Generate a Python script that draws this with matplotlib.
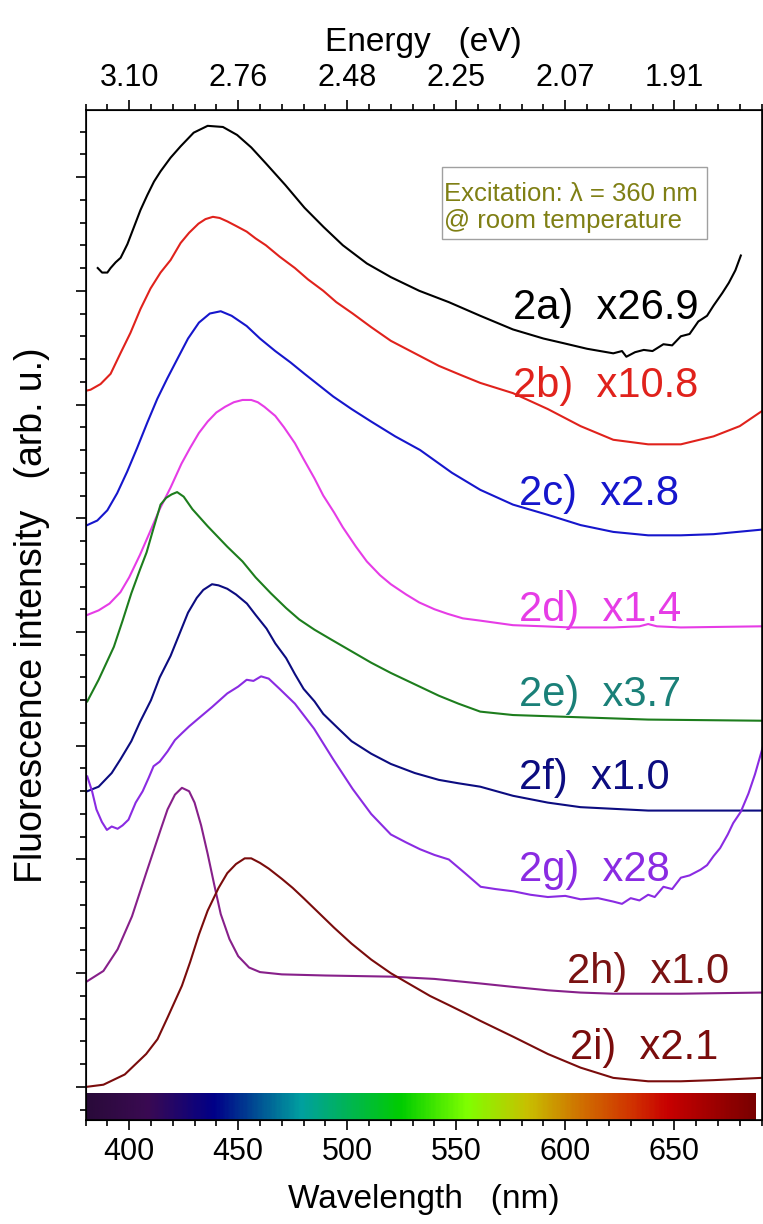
import numpy as np
import matplotlib
matplotlib.use("Agg")
import matplotlib.pyplot as plt
from matplotlib.colors import LinearSegmentedColormap
from matplotlib.patches import Rectangle
from matplotlib.ticker import MultipleLocator

plt.rcParams['font.family'] = ['Liberation Sans', 'DejaVu Sans']

# spectra (wavelength nm, offset intensity)
wl_2a = [385.6, 387.6, 390, 391.5, 393.8, 396.1, 399.2, 402.2, 405.2, 408.3, 411.4, 414.4, 419, 423.6,
         429.6, 436, 443, 449.5, 456, 462.7, 471.6, 480.4, 489.2, 498, 509, 520, 533, 546.6, 561, 576,
         590, 599, 610, 622, 626, 628, 632, 636, 640, 645, 649, 653, 657, 661, 665, 668, 672, 675, 678, 680.5]
int_2a = [7.20, 7.16, 7.16, 7.20, 7.25, 7.29, 7.41, 7.56, 7.71, 7.84, 7.96, 8.05, 8.17, 8.27,
          8.39, 8.45, 8.44, 8.37, 8.26, 8.12, 7.93, 7.73, 7.56, 7.40, 7.24, 7.12, 7.00, 6.90, 6.78, 6.66,
          6.58, 6.54, 6.49, 6.45, 6.47, 6.42, 6.46, 6.48, 6.47, 6.53, 6.52, 6.60, 6.62, 6.73, 6.78, 6.87, 6.98, 7.07, 7.18, 7.31]

wl_2b = [380, 382.3, 386.9, 391.5, 396, 400.6, 405.2, 409.8, 414.4, 419, 423.6, 427.5, 431.8, 435, 438.4, 441.5,
         445, 449, 453.9, 458, 462.7, 469, 476, 482, 489, 495, 502.5, 511, 520, 531, 542, 552, 561, 576,
         592, 607, 622, 638, 653, 668, 680, 690]
int_2b = [6.12, 6.13, 6.18, 6.27, 6.45, 6.63, 6.84, 7.02, 7.16, 7.27, 7.42, 7.51, 7.59, 7.63, 7.65, 7.64,
          7.61, 7.57, 7.52, 7.46, 7.40, 7.30, 7.20, 7.10, 7.00, 6.90, 6.80, 6.68, 6.56, 6.45, 6.34, 6.26, 6.19, 6.10,
          5.96, 5.81, 5.69, 5.65, 5.65, 5.72, 5.81, 5.94]

wl_2c = [380.8, 385.4, 390, 394.5, 399.1, 403.7, 408.3, 412.9, 417.5, 422.1, 427, 432, 437, 442, 447, 453.9,
         460, 467, 474, 480.4, 487, 493.6, 502, 511, 522, 533.4, 548, 561, 576, 592, 607, 622, 638, 653, 668, 690]
int_2c = [4.94, 4.98, 5.07, 5.22, 5.41, 5.62, 5.84, 6.05, 6.23, 6.40, 6.58, 6.72, 6.80, 6.82, 6.78, 6.69,
          6.58, 6.47, 6.37, 6.27, 6.17, 6.07, 5.96, 5.85, 5.72, 5.60, 5.40, 5.25, 5.12, 5.03, 4.94, 4.88, 4.85, 4.85, 4.86, 4.90]

wl_2d = [380.8, 386, 391, 396, 400, 405, 410, 414, 419, 424, 428, 432, 436, 440, 444, 448, 452, 456, 459,
         462, 467, 471, 476, 480, 485, 489, 494, 498, 504, 509, 515, 520, 527, 533, 540, 546, 553, 561,
         576, 590, 602.5, 622, 634, 638, 642, 653, 690]
int_2d = [4.15, 4.19, 4.25, 4.35, 4.48, 4.68, 4.90, 5.08, 5.27, 5.48, 5.62, 5.75, 5.85, 5.93, 5.98, 6.02, 6.04, 6.04, 6.02,
          5.98, 5.90, 5.80, 5.66, 5.52, 5.35, 5.20, 5.05, 4.92, 4.75, 4.62, 4.50, 4.42, 4.33, 4.26, 4.20, 4.16, 4.12, 4.10,
          4.06, 4.05, 4.04, 4.04, 4.05, 4.07, 4.05, 4.04, 4.05]

wl_2e = [380.8, 386, 393, 397, 401, 405, 408, 411, 414.4, 417, 419.5, 422, 425, 429, 436, 445, 452, 458, 465,
         472, 478, 485, 493, 502, 511, 520, 531, 542, 551, 561, 576, 607, 638, 690]
int_2e = [3.39, 3.58, 3.87, 4.10, 4.34, 4.55, 4.70, 4.90, 5.12, 5.18, 5.21, 5.23, 5.19, 5.08, 4.93, 4.75, 4.62, 4.48, 4.34,
          4.21, 4.11, 4.02, 3.93, 3.83, 3.73, 3.64, 3.54, 3.44, 3.37, 3.30, 3.27, 3.25, 3.23, 3.22]

wl_2f = [380.8, 386, 392, 396, 401, 405, 410, 414, 419, 423, 427, 431, 434, 438, 441, 445, 449, 454, 458, 463,
         467, 472, 476, 480, 485, 489, 496, 502, 511, 520, 531, 542, 551, 561, 576, 592, 607, 638, 661, 690]
int_2f = [2.60, 2.64, 2.76, 2.88, 3.04, 3.21, 3.40, 3.60, 3.79, 3.98, 4.17, 4.30, 4.37, 4.42, 4.41, 4.38, 4.33, 4.25, 4.15, 4.03,
          3.90, 3.77, 3.63, 3.50, 3.39, 3.28, 3.15, 3.04, 2.93, 2.84, 2.76, 2.70, 2.67, 2.64, 2.56, 2.50, 2.46, 2.43, 2.43, 2.43]

wl_2g = [380.8, 383, 385, 387.5, 389.8, 392, 394.7, 397, 399.7, 403, 406.2, 409, 411.2, 414, 417.6, 421,
         424.2, 427.5, 431.8, 438, 445, 450, 453.9, 457, 460.5, 464, 469, 476, 484.8, 493.6, 502.5, 511,
         520, 527, 533.4, 540, 546.6, 554, 561.2, 568, 576.3, 584, 592, 600, 607, 615, 622, 626, 630, 634,
         638, 641, 645, 649, 653, 657, 662, 665, 668, 671, 674.5, 677, 680.5, 684, 687, 690, 693]
int_2g = [2.73, 2.60, 2.44, 2.33, 2.26, 2.29, 2.27, 2.30, 2.35, 2.50, 2.60, 2.72, 2.82, 2.86, 2.95, 3.05,
          3.11, 3.17, 3.24, 3.34, 3.46, 3.52, 3.58, 3.57, 3.61, 3.59, 3.50, 3.37, 3.15, 2.88, 2.62, 2.40,
          2.22, 2.15, 2.09, 2.04, 2.00, 1.88, 1.76, 1.74, 1.72, 1.69, 1.67, 1.68, 1.65, 1.66, 1.63, 1.61, 1.66, 1.64,
          1.69, 1.67, 1.76, 1.74, 1.84, 1.86, 1.91, 1.95, 2.03, 2.10, 2.22, 2.32, 2.42, 2.58, 2.75, 2.95, 3.15]

wl_2h = [380.8, 388.2, 394.7, 401.3, 407.8, 414.4, 417.6, 421, 424.2, 427.5, 430, 433, 436, 439, 442, 446, 450,
         455, 460, 470, 490, 520, 540, 561, 576, 592, 607, 622, 638, 653, 690]
int_2h = [0.93, 1.02, 1.21, 1.50, 1.88, 2.26, 2.44, 2.57, 2.63, 2.60, 2.50, 2.30, 2.05, 1.78, 1.52, 1.30, 1.15,
          1.05, 1.01, 0.99, 0.98, 0.97, 0.95, 0.91, 0.88, 0.85, 0.83, 0.82, 0.82, 0.82, 0.83]

wl_2i = [380, 388.2, 398, 407.8, 413, 417.6, 424.2, 428, 432, 436, 441, 445, 449, 453, 456, 460, 464, 470, 475,
         480, 487, 494, 502, 511, 520, 529, 538, 546.6, 554, 561.2, 576.3, 592, 607, 622, 638, 653, 668, 690]
int_2i = [0.0, 0.02, 0.11, 0.29, 0.42, 0.61, 0.89, 1.10, 1.34, 1.55, 1.75, 1.88, 1.96, 2.01, 2.01, 1.97, 1.92, 1.83, 1.75,
          1.66, 1.53, 1.40, 1.26, 1.12, 1.00, 0.90, 0.80, 0.72, 0.65, 0.58, 0.44, 0.29, 0.17, 0.08, 0.05, 0.05, 0.06, 0.08]

labels = ['2a)  x26.9', '2b)  x10.8', '2c)  x2.8', '2d)  x1.4', '2e)  x3.7',
          '2f)  x1.0', '2g)  x28', '2h)  x1.0', '2i)  x2.1']
label_wl = [576, 576, 579, 579, 579, 579, 579, 601, 602]
label_y = [6.75, 6.07, 5.12, 4.10, 3.35, 2.62, 1.81, 0.91, 0.25]

wl_ticks = [400, 450, 500, 550, 600, 650]
energy_labels = ['3.10', '2.76', '2.48', '2.25', '2.07', '1.91']

series = [(wl_2a, int_2a), (wl_2b, int_2b), (wl_2c, int_2c), (wl_2d, int_2d), (wl_2e, int_2e),
          (wl_2f, int_2f), (wl_2g, int_2g), (wl_2h, int_2h), (wl_2i, int_2i)]
line_colors = ['#000000', '#e0221c', '#1616cc', '#e63ce6', '#1d7d1d',
               '#0c0c80', '#8a2be2', '#87208a', '#7a0c0c']
text_colors = ['#000000', '#e0221c', '#1616cc', '#e63ce6', '#1a8078',
               '#0c0c80', '#8a2be2', '#7a1212', '#7a0c0c']

fig = plt.figure(figsize=(7.63, 12.24), dpi=100)
ax = fig.add_axes([0.1121, 0.0850, 0.8860, 0.8252])

for (x, y), c in zip(series, line_colors):
    ax.plot(x, y, color=c, lw=1.5)

for t, xw, yv, c in zip(labels, label_wl, label_y, text_colors):
    ax.text(xw, yv, t, color=c, fontsize=30, va='baseline', ha='left')

# rainbow strip along the bottom
spec = LinearSegmentedColormap.from_list('spec', [
    (0.0, '#2a0a3a'), (0.09, '#3a0a52'), (0.19, '#000088'), (0.32, '#00a0a0'),
    (0.47, '#00cc00'), (0.57, '#80ff00'), (0.66, '#c8c000'), (0.74, '#d07000'),
    (0.82, '#d03000'), (0.87, '#c80000'), (1.0, '#7a0000')])
strip = np.linspace(380, 687, 400).reshape(1, -1)
ax.imshow(strip, cmap=spec, extent=[380, 687, -0.29, -0.055], aspect='auto', zorder=1)

ax.set_xlim(380, 690)
ax.set_ylim(-0.29, 8.59)
ax.set_xticks(wl_ticks)
ax.xaxis.set_minor_locator(MultipleLocator(10))
ax.yaxis.set_major_locator(MultipleLocator(1))
ax.yaxis.set_minor_locator(MultipleLocator(0.2))
ax.set_yticklabels([])
ax.tick_params(axis='both', which='major', direction='out', length=7.5, width=1.2, labelsize=22, pad=5)
ax.tick_params(axis='both', which='minor', direction='out', length=4.5, width=1.2)
ax.tick_params(axis='y', which='both', right=False)
for s in ax.spines.values():
    s.set_linewidth(1.2)
ax.set_xlabel('Wavelength   (nm)', fontsize=24, labelpad=12)
ax.set_ylabel('Fluorescence intensity   (arb. u.)', fontsize=27, labelpad=13)

top = ax.twiny()
top.set_xlim(ax.get_xlim())
top.set_xticks(wl_ticks)
top.set_xticklabels(energy_labels)
top.xaxis.set_minor_locator(MultipleLocator(10))
top.tick_params(axis='x', which='major', direction='out', length=7.5, width=1.2, labelsize=22, pad=5)
top.tick_params(axis='x', which='minor', direction='out', length=4.5, width=1.2)
top.set_xlabel('Energy   (eV)', fontsize=24, labelpad=8)

# note box
ax.add_patch(Rectangle((0.527, 0.872), 0.392, 0.071, transform=ax.transAxes,
                       facecolor='white', edgecolor='#a0a0a0', lw=1.0, zorder=3))
ax.text(0.531, 0.910, 'Excitation: \u03bb = 360 nm', transform=ax.transAxes,
        color='#7f7f14', fontsize=18.5, va='baseline', zorder=4)
ax.text(0.531, 0.883, '@ room temperature', transform=ax.transAxes,
        color='#7f7f14', fontsize=18.5, va='baseline', zorder=4)

fig.savefig('out.png', dpi=100)
